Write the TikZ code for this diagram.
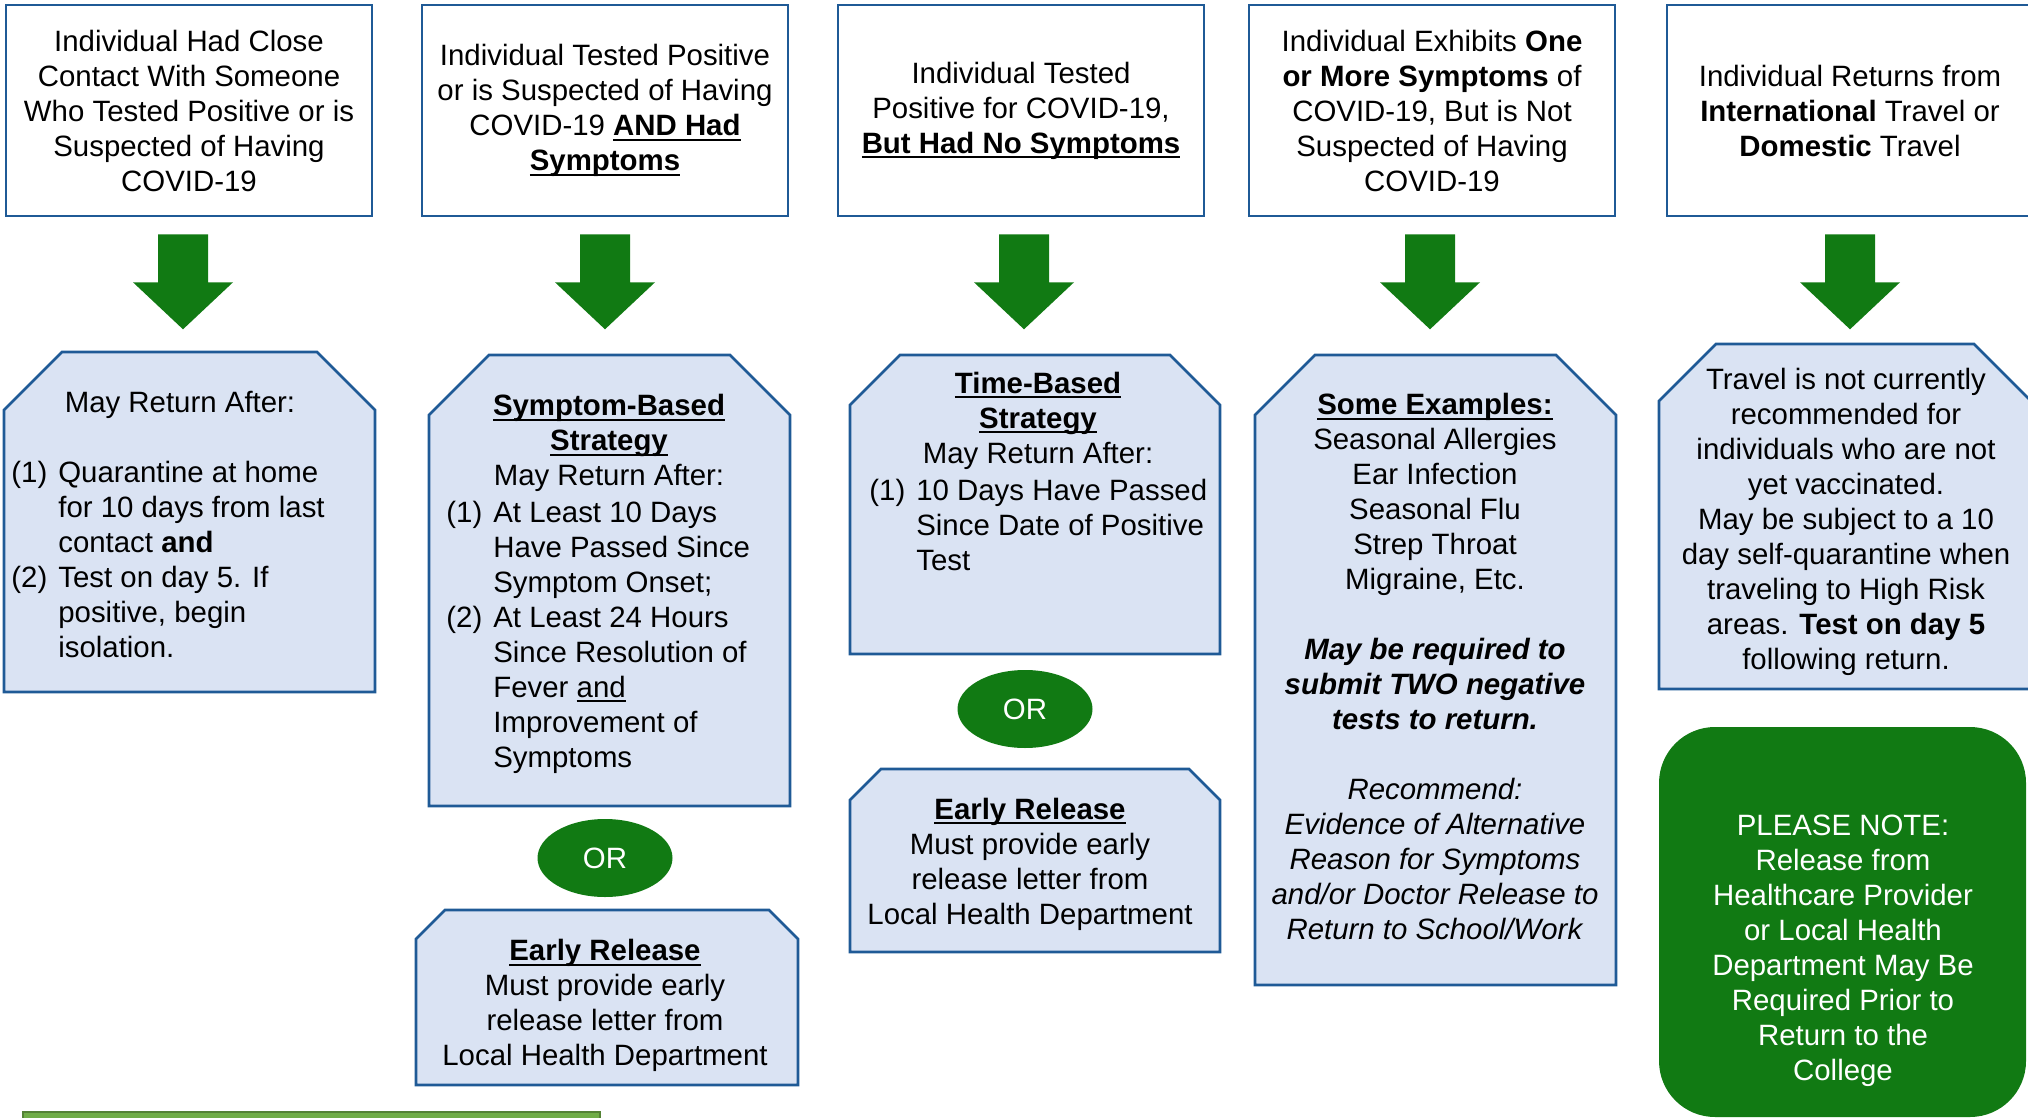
\documentclass[tikz,border=0pt]{standalone}
\usepackage{fontspec}
\setmainfont{Liberation Sans}
\usetikzlibrary{calc,shapes.geometric}

\definecolor{boxblue}{RGB}{31,90,150}
\definecolor{boxfill}{RGB}{218,227,243}
\definecolor{cdcgreen}{RGB}{17,122,19}
\definecolor{barfill}{RGB}{112,173,71}
\definecolor{barline}{RGB}{84,130,53}

\newsavebox{\ulbox}
\newcommand{\undl}[1]{\sbox{\ulbox}{#1}\rlap{\rule[-2.6pt]{\wd\ulbox}{1.1pt}}\usebox{\ulbox}}
\newcommand{\chambox}[5]{\draw[lowbox] (#1,#2+#5) -- (#1+#5,#2) -- (#3-#5,#2) -- (#3,#2+#5) -- (#3,#4) -- (#1,#4) -- cycle;}
\newcommand{\downarrowfrom}[2][0]{\fill[cdcgreen] ($(#2.south)+(-25+#1,17)$) -- ++(50,0) -- ++(0,48) -- ++(25,0) -- ++(-50,47) -- ++(-50,-47) -- ++(25,0) -- cycle;}

\begin{document}
\begin{tikzpicture}[x=0.5pt,y=-0.5pt,
    txt/.style={align=center,inner sep=0pt,font=\fontsize{14.7}{17.5}\selectfont},
    topbox/.style={txt,draw=boxblue,line width=1.3pt,minimum width=183pt,minimum height=105.5pt},
    lowbox/.style={draw=boxblue,fill=boxfill,line width=1.3pt},
    ornode/.style={txt,ellipse,fill=cdcgreen,text=white,minimum width=67.5pt,minimum height=39pt}]
    \useasboundingbox (0,0) rectangle (2028,1118);

    \node[topbox] (close) at (189,110.5) {Individual Had Close\\Contact With Someone\\Who Tested Positive or is\\Suspected of Having\\COVID-19};
    \node[topbox] (positive) at (605,110.5) {Individual Tested Positive\\or is Suspected of Having\\COVID-19 \undl{\textbf{AND Had}}\\\undl{\textbf{Symptoms}}};
    \node[topbox] (nosymp) at (1021,110.5) {Individual Tested\\Positive for COVID-19,\\\undl{\textbf{But Had No Symptoms}}};
    \node[topbox] (exhibits) at (1432,110.5) {Individual Exhibits \textbf{One}\\\textbf{or More Symptoms} of\\COVID-19, But is Not\\Suspected of Having\\COVID-19};
    \node[topbox] (travel) at (1850,110.5) {Individual Returns from\\\textbf{International} Travel or\\\textbf{Domestic} Travel};

    \downarrowfrom[-6]{close}
    \downarrowfrom{positive}
    \downarrowfrom[3]{nosymp}
    \downarrowfrom[-2]{exhibits}
    \downarrowfrom{travel}

    \chambox{4}{352}{375}{692}{58}
    \chambox{429}{355}{790}{806}{60}
    \chambox{416}{910}{798}{1085}{29}
    \chambox{850}{355}{1220}{654}{50}
    \chambox{850}{769}{1220}{952}{31}
    \chambox{1255}{355}{1616}{985}{60}
    \chambox{1659}{344}{2031}{689}{57}

    \node[txt] (quarhead) at (180,405) {May Return After:};
    \node[txt,anchor=west] (quarlist) at (11,563) {\begin{tabular}{@{}l@{\hspace{5.5pt}}l@{}}
      (1) & Quarantine at home\\ & for 10 days from last\\ & contact \textbf{and}\\
      (2) & Test on day 5. If\\ & positive, begin\\ & isolation.\end{tabular}};

    \node[txt] (symphead) at (609,443) {\undl{\textbf{Symptom-Based}}\\\undl{\textbf{Strategy}}\\May Return After:};
    \node[txt,anchor=west] (symplist) at (446,637.5) {\begin{tabular}{@{}l@{\hspace{5.5pt}}l@{}}
      (1) & At Least 10 Days\\ & Have Passed Since\\ & Symptom Onset;\\
      (2) & At Least 24 Hours\\ & Since Resolution of\\ & Fever \undl{and}\\ & Improvement of\\ & Symptoms\end{tabular}};
    \node[ornode] (symor) at (605,858) {OR};
    \node[txt] (sympearly) at (605,1005.5) {\undl{\textbf{Early Release}}\\Must provide early\\release letter from\\Local Health Department};

    \node[txt] (timehead) at (1038,420.5) {\undl{\textbf{Time-Based}}\\\undl{\textbf{Strategy}}\\May Return After:};
    \node[txt,anchor=west] (timelist) at (869,528) {\begin{tabular}{@{}l@{\hspace{5.5pt}}l@{}}
      (1) & 10 Days Have Passed\\ & Since Date of Positive\\ & Test\end{tabular}};
    \node[ornode] (timeor) at (1025,709) {OR};
    \node[txt] (timeearly) at (1030,864) {\undl{\textbf{Early Release}}\\Must provide early\\release letter from\\Local Health Department};

    \node[txt] (examples) at (1435,666.5) {\undl{\textbf{Some Examples:}}\\Seasonal Allergies\\Ear Infection\\Seasonal Flu\\Strep Throat\\Migraine, Etc.\\[17.5pt]
      \textbf{\textit{May be required to}}\\\textbf{\textit{submit TWO negative}}\\\textbf{\textit{tests to return.}}\\[17.5pt]
      \textit{Recommend:}\\\textit{Evidence of Alternative}\\\textit{Reason for Symptoms}\\\textit{and/or Doctor Release to}\\\textit{Return to School/Work}};

    \node[txt] (travelnote) at (1846,521.5) {Travel is not currently\\recommended for\\individuals who are not\\yet vaccinated.\\May be subject to a 10\\day self-quarantine when\\traveling to High Risk\\areas. \textbf{Test on day 5}\\following return.};

    \fill[cdcgreen,rounded corners=28pt] (1659,727) rectangle (2026,1117);
    \node[txt,text=white] (pleasenote) at (1843,951) {PLEASE NOTE:\\Release from\\Healthcare Provider\\or Local Health\\Department May Be\\Required Prior to\\Return to the\\College};

    \draw[fill=barfill,draw=barline,line width=1.3pt] (23,1112) rectangle (600,1135);
  \end{tikzpicture}
\end{document}
